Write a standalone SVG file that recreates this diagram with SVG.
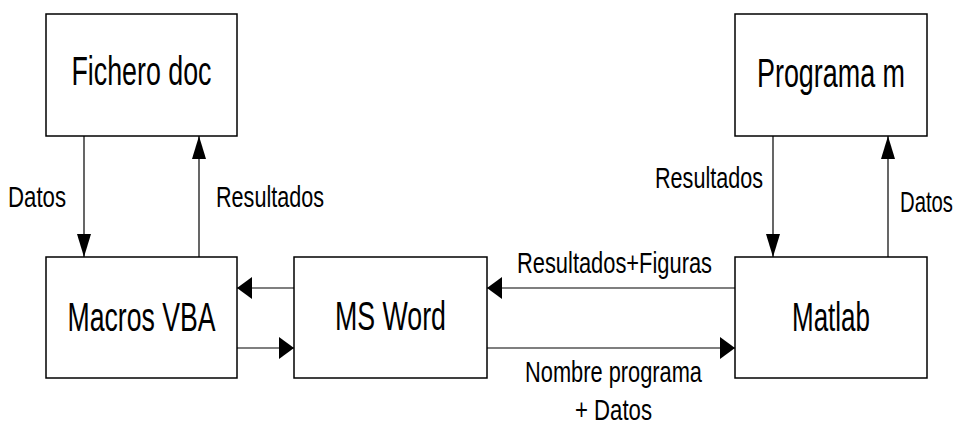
<svg xmlns="http://www.w3.org/2000/svg" width="954" height="425" viewBox="0 0 954 425">
<style>
.box{fill:#fff;stroke:#000;stroke-width:1.5}
.t{font-family:"Liberation Sans",Arial,sans-serif;font-size:40px;fill:#000;text-anchor:middle}
.l{font-family:"Liberation Sans",Arial,sans-serif;font-size:29px;fill:#000}
.c{fill:none;stroke:#000;stroke-width:1.2}
.v{marker-end:url(#av)}
.h{marker-end:url(#ah)}
</style>
<defs>
<marker id="av" markerUnits="userSpaceOnUse" markerWidth="23" markerHeight="14" refX="23" refY="7" orient="auto" overflow="visible">
<path d="M0,0 L23,7 L0,14 z" fill="#000"/>
</marker>
<marker id="ah" markerUnits="userSpaceOnUse" markerWidth="15" markerHeight="22" refX="15" refY="11" orient="auto" overflow="visible">
<path d="M0,0 L15,11 L0,22 z" fill="#000"/>
</marker>
</defs>
<rect width="954" height="425" fill="#fff"/>
<g id="connectors">
<line class="c v" x1="84" y1="136" x2="84" y2="257"/>
<line class="c v" x1="199" y1="257" x2="199" y2="136"/>
<line class="c v" x1="773" y1="136" x2="773" y2="257"/>
<line class="c v" x1="888" y1="257" x2="888" y2="136"/>
<line class="c h" x1="294" y1="288" x2="237" y2="288"/>
<line class="c h" x1="237" y1="348" x2="294" y2="348"/>
<line class="c h" x1="735" y1="288" x2="487" y2="288"/>
<line class="c h" x1="487" y1="348" x2="735" y2="348"/>
<text class="l" x="8" y="207" textLength="58" lengthAdjust="spacingAndGlyphs">Datos</text>
<text class="l" x="216" y="207" textLength="108" lengthAdjust="spacingAndGlyphs">Resultados</text>
<text class="l" x="655" y="188" textLength="108" lengthAdjust="spacingAndGlyphs">Resultados</text>
<text class="l" x="900" y="212" textLength="53" lengthAdjust="spacingAndGlyphs">Datos</text>
<text class="l" x="517" y="273" textLength="195" lengthAdjust="spacingAndGlyphs">Resultados+Figuras</text>
<text class="l" x="525" y="382" textLength="177" lengthAdjust="spacingAndGlyphs">Nombre programa</text>
<text class="l" x="575" y="420" textLength="77" lengthAdjust="spacingAndGlyphs">+ Datos</text>
</g>
<g id="fichero">
<rect class="box" x="46" y="14" width="191" height="122"/>
<text class="t" x="141.5" y="85" textLength="140" lengthAdjust="spacingAndGlyphs">Fichero doc</text>
</g>
<g id="macros">
<rect class="box" x="46" y="257" width="191" height="121"/>
<text class="t" x="141.5" y="331" textLength="148" lengthAdjust="spacingAndGlyphs">Macros VBA</text>
</g>
<g id="msword">
<rect class="box" x="294" y="257" width="193" height="121"/>
<text class="t" x="390.5" y="330" textLength="111" lengthAdjust="spacingAndGlyphs">MS Word</text>
</g>
<g id="matlab">
<rect class="box" x="735" y="257" width="192" height="121"/>
<text class="t" x="831" y="331" textLength="78" lengthAdjust="spacingAndGlyphs">Matlab</text>
</g>
<g id="programa">
<rect class="box" x="735" y="14" width="192" height="122"/>
<text class="t" x="831" y="87" textLength="148" lengthAdjust="spacingAndGlyphs">Programa m</text>
</g>
</svg>
